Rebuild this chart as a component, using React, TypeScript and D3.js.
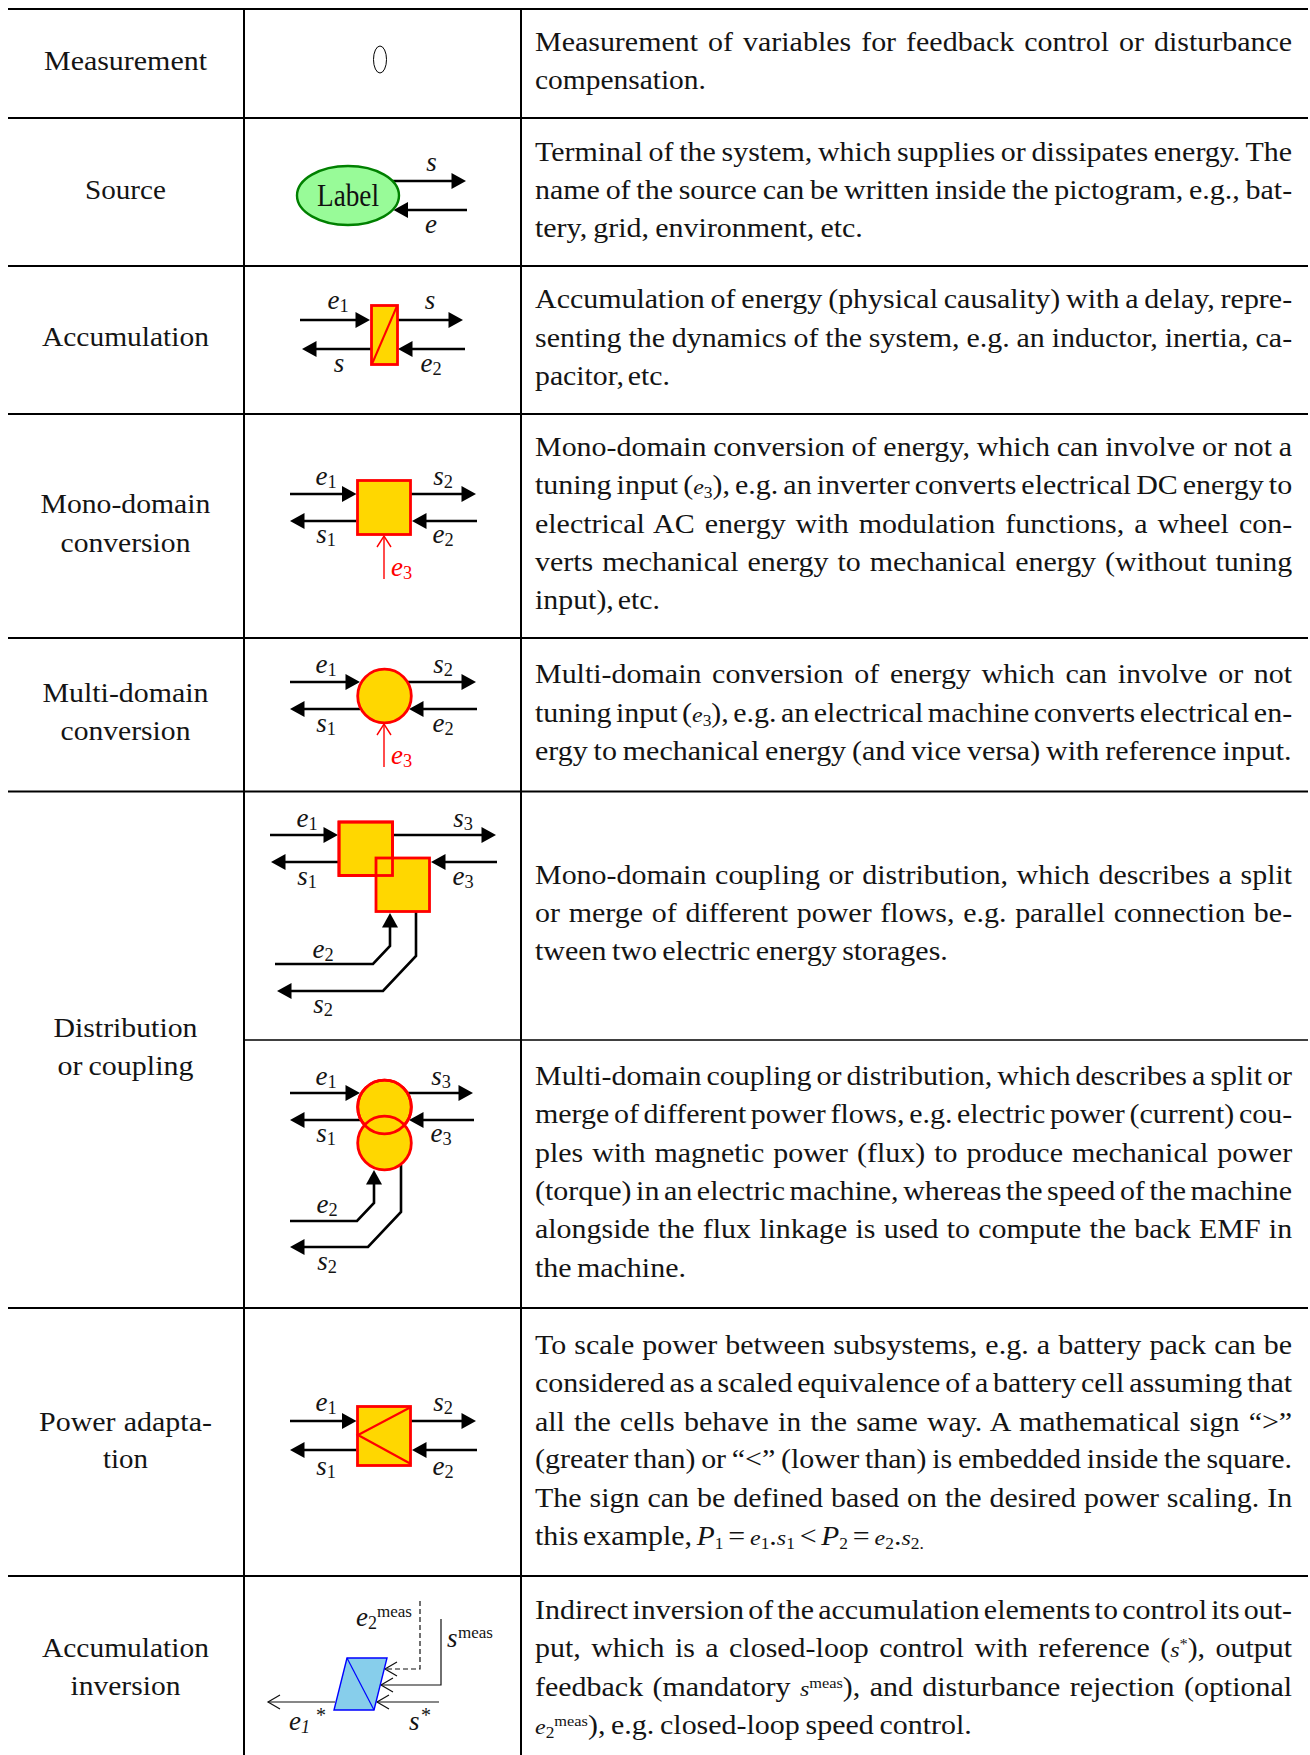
import React, { useLayoutEffect, useRef } from "react";
import * as d3 from "d3";

// ---------- content ----------
const rowLabels: string[][] = [
  ["Measurement"],
  ["Source"],
  ["Accumulation"],
  ["Mono-domain", "conversion"],
  ["Multi-domain", "conversion"],
  ["Distribution", "or coupling"],
  ["Power adapta-", "tion"],
  ["Accumulation", "inversion"],
];

const descriptions: string[][] = [
  ["Measurement of variables for feedback control or disturbance", "compensation."],
  [
    "Terminal of the system, which supplies or dissipates energy. The",
    "name of the source can be written inside the pictogram, e.g., bat-",
    "tery, grid, environment, etc.",
  ],
  [
    "Accumulation of energy (physical causality) with a delay, repre-",
    "senting the dynamics of the system, e.g. an inductor, inertia, ca-",
    "pacitor, etc.",
  ],
  [
    "Mono-domain conversion of energy, which can involve or not a",
    "tuning input ({i:e}{_:3}), e.g. an inverter converts electrical DC energy to",
    "electrical AC energy with modulation functions, a wheel con-",
    "verts mechanical energy to mechanical energy (without tuning",
    "input), etc.",
  ],
  [
    "Multi-domain conversion of energy which can involve or not",
    "tuning input ({i:e}{_:3}), e.g. an electrical machine converts electrical en-",
    "ergy to mechanical energy (and vice versa) with reference input.",
  ],
  [
    "Mono-domain coupling or distribution, which describes a split",
    "or merge of different power flows, e.g. parallel connection be-",
    "tween two electric energy storages.",
  ],
  [
    "Multi-domain coupling or distribution, which describes a split or",
    "merge of different power flows, e.g. electric power (current) cou-",
    "ples with magnetic power (flux) to produce mechanical power",
    "(torque) in an electric machine, whereas the speed of the machine",
    "alongside the flux linkage is used to compute the back EMF in",
    "the machine.",
  ],
  [
    "To scale power between subsystems, e.g. a battery pack can be",
    "considered as a scaled equivalence of a battery cell assuming that",
    "all the cells behave in the same way. A mathematical sign “>”",
    "(greater than) or “<” (lower than) is embedded inside the square.",
    "The sign can be defined based on the desired power scaling. In",
    "this example, {P:P}{_:1} = {i:e}{_:1}.{i:s}{_:1} < {P:P}{_:2} = {i:e}{_:2}.{i:s}{_:2.}",
  ],
  [
    "Indirect inversion of the accumulation elements to control its out-",
    "put, which is a closed-loop control with reference ({i:s}{^:*}), output",
    "feedback (mandatory {i:s}{^:meas}), and disturbance rejection (optional",
    "{i:e}{_:2}{^:meas}), e.g. closed-loop speed control.",
  ],
];

// ---------- layout ----------
const W = 1310, H = 1755;
const FONT = "'Liberation Serif', serif";
const TXT = "#141414";
const rowLines = [9, 118, 266, 414, 638, 791.5, 1308, 1576];
const col1 = 244, col2 = 521, left = 8, right = 1308, split = 1040;

const labelLayout: { y: number; w: number }[][] = [
  [{ y: 70, w: 163 }],
  [{ y: 199, w: 81 }],
  [{ y: 346, w: 167 }],
  [{ y: 513, w: 170 }, { y: 552, w: 130 }],
  [{ y: 702, w: 166 }, { y: 740, w: 130 }],
  [{ y: 1037, w: 144 }, { y: 1075, w: 136 }],
  [{ y: 1431, w: 173 }, { y: 1468, w: 45 }],
  [{ y: 1657, w: 167 }, { y: 1695, w: 110 }],
];
const bodyBaselines = [
  [51, 89],
  [161, 199, 237],
  [308, 347, 385],
  [456, 494, 533, 571, 609],
  [683, 722, 760],
  [884, 922, 960],
  [1085, 1123, 1162, 1200, 1238, 1277],
  [1354, 1392, 1431, 1468, 1507, 1545],
  [1619, 1657, 1696, 1734],
];
const bodyLast = [171, 328, 135, 125, 757, 413, 151, 389, 437];
const bodyX = 535, bodyW = 757.5;

const lineGen = d3.line<[number, number]>();
type P = [number, number];

function parse(s: string) {
  const out: { k: string; t: string }[] = [];
  const re = /\{([iP_^]):([^}]*)\}/g;
  let last = 0, m: RegExpExecArray | null;
  while ((m = re.exec(s))) {
    if (m.index > last) out.push({ k: "", t: s.slice(last, m.index) });
    out.push({ k: m[1], t: m[2] });
    last = m.index + m[0].length;
  }
  if (last < s.length) out.push({ k: "", t: s.slice(last) });
  return out;
}

const segStyle: Record<string, any> = {
  "": { shift: 0 },
  i: { shift: 0, size: 22, italic: true },
  P: { shift: 0, size: 27, italic: true },
  _: { shift: 4, size: 16 },
  "^": { shift: -8, size: 15 },
};

function RichText({ s }: { s: string }) {
  let cur = 0;
  return (
    <>
      {parse(s).map((seg, i) => {
        const st = segStyle[seg.k];
        const dy = st.shift - cur;
        cur = st.shift;
        return (
          <tspan key={i} dy={dy || undefined} fontSize={st.size} fontStyle={st.italic ? "italic" : undefined}>
            {seg.t}
          </tspan>
        );
      })}
    </>
  );
}

function Arrow({ pts, color = "#000", w = 2.6, len = 14.5, hw = 8, open = false, dash }: {
  pts: P[]; color?: string; w?: number; len?: number; hw?: number; open?: boolean; dash?: string;
}) {
  const n = pts.length;
  const [tx, ty] = pts[n - 1];
  const [px, py] = pts[n - 2];
  const d = Math.hypot(tx - px, ty - py);
  const ux = (tx - px) / d, uy = (ty - py) / d;
  const bx = tx - ux * len, by = ty - uy * len;
  const a: P = [bx - uy * hw, by + ux * hw];
  const b: P = [bx + uy * hw, by - ux * hw];
  const body: P[] = open ? pts : [...pts.slice(0, n - 1), [bx + ux, by + uy]];
  return (
    <g>
      <path d={lineGen(body)!} fill="none" stroke={color} strokeWidth={w} strokeDasharray={dash} />
      {open ? (
        <path d={lineGen([a, [tx, ty], b])!} fill="none" stroke={color} strokeWidth={w} />
      ) : (
        <path d={lineGen([a, [tx, ty], b])! + "Z"} fill={color} />
      )}
    </g>
  );
}

function Sym({ x, y, t, sub, color = TXT, anchor = "middle", italicSub = false, fs = 27 }: {
  x: number; y: number; t: string; sub?: string; color?: string; anchor?: string; italicSub?: boolean; fs?: number;
}) {
  return (
    <text x={x} y={y} textAnchor={anchor as any} fontFamily={FONT} fill={color} fontSize={fs}>
      <tspan fontStyle="italic">{t}</tspan>
      {sub && (
        <tspan fontSize={fs * 0.68} dy={3} fontStyle={italicSub ? "italic" : undefined}>
          {sub}
        </tspan>
      )}
    </text>
  );
}

const GOLD = "#ffd700", RED = "#ff0000";
const SW = 2.8;
const CX = 384.5;
const Box = ({ x, y, w, h }: { x: number; y: number; w: number; h: number }) => (
  <rect x={x} y={y} width={w} height={h} fill={GOLD} stroke={RED} strokeWidth={SW} />
);
const Disc = ({ cy, stroke = true, fill = GOLD }: { cy: number; stroke?: boolean; fill?: string }) => (
  <circle cx={CX} cy={cy} r={26.8} fill={fill} stroke={stroke ? RED : "none"} strokeWidth={SW} />
);

// Standard four-arrow pair around a block
function Quad({ topY, botY, lx, rx, lEnd = 290, rEnd = 476 }: {
  topY: number; botY: number; lx: number; rx: number; lEnd?: number; rEnd?: number;
}) {
  return (
    <>
      <Arrow pts={[[lEnd, topY], [lx, topY]]} />
      <Arrow pts={[[rx - 2, topY], [rEnd, topY]]} />
      <Arrow pts={[[lx, botY], [lEnd, botY]]} />
      <Arrow pts={[[rEnd + 1, botY], [rx - 1, botY]]} />
    </>
  );
}

function Pictograms() {
  const redOpen = { color: RED, w: 1.4, len: 11, hw: 7, open: true };
  const thin = { color: "#111", w: 1.2, len: 12, hw: 7, open: true };
  return (
    <g>
      {/* Measurement */}
      <ellipse cx={380} cy={59.5} rx={6.5} ry={13.5} fill="#fff" stroke="#000" strokeWidth={1} />

      {/* Source */}
      <Arrow pts={[[390, 181], [466, 181]]} />
      <Arrow pts={[[467, 210], [393.5, 210]]} />
      <ellipse cx={348} cy={195.5} rx={51} ry={29.5} fill="#98fb98" stroke="#008000" strokeWidth={2.4} />
      <text x={317} y={206} fontFamily={FONT} fontSize={31} fill="#111" textLength={62} lengthAdjust="spacingAndGlyphs">Label</text>
      <Sym x={431.5} y={171} t="s" />
      <Sym x={431} y={233} t="e" />

      {/* Accumulation */}
      <Arrow pts={[[300, 320], [370, 320]]} />
      <Arrow pts={[[397, 320], [463, 320]]} />
      <Arrow pts={[[372, 349], [302, 349]]} />
      <Arrow pts={[[465, 349], [398, 349]]} />
      <rect x={371.5} y={305.5} width={26} height={59} fill={GOLD} stroke={RED} strokeWidth={SW} />
      <path d={lineGen([[372, 364], [397, 306]])!} stroke={RED} strokeWidth={2} fill="none" />
      <Sym x={338} y={309} t="e" sub="1" />
      <Sym x={430} y={309} t="s" />
      <Sym x={339} y={372} t="s" />
      <Sym x={431} y={372} t="e" sub="2" />

      {/* Mono-domain */}
      <Quad topY={494} botY={521} lx={356.5} rx={413} />
      <Box x={357.5} y={480.5} w={53} h={54} />
      <Arrow pts={[[384, 579], [384, 536]]} {...redOpen} />
      <Sym x={326} y={485} t="e" sub="1" />
      <Sym x={443} y={485} t="s" sub="2" />
      <Sym x={326} y={543} t="s" sub="1" />
      <Sym x={443} y={543} t="e" sub="2" />
      <Sym x={391} y={576} t="e" sub="3" color={RED} anchor="start" />

      {/* Multi-domain */}
      <Quad topY={682} botY={709} lx={360} rx={410} />
      <Disc cy={696} />
      <Arrow pts={[[384, 767], [384, 724]]} {...redOpen} />
      <Sym x={326} y={673} t="e" sub="1" />
      <Sym x={443} y={673} t="s" sub="2" />
      <Sym x={326} y={732} t="s" sub="1" />
      <Sym x={443} y={732} t="e" sub="2" />
      <Sym x={391} y={764} t="e" sub="3" color={RED} anchor="start" />

      {/* Distribution – mono */}
      <Arrow pts={[[270, 835], [338, 835]]} />
      <Arrow pts={[[392, 835], [496, 835]]} />
      <Arrow pts={[[339, 862], [271, 862]]} />
      <Arrow pts={[[497, 862], [431, 862]]} />
      <Arrow pts={[[275, 964], [373, 964], [390, 946], [390, 913]]} />
      <Arrow pts={[[416, 911], [416, 956], [383, 991], [277, 991]]} />
      <Box x={339} y={822} w={53.5} h={53.5} />
      <Box x={376} y={858} w={53.5} h={53.5} />
      <rect x={339} y={822} width={53.5} height={53.5} fill="none" stroke={RED} strokeWidth={SW} />
      <Sym x={307} y={827} t="e" sub="1" />
      <Sym x={463} y={827} t="s" sub="3" />
      <Sym x={307} y={885} t="s" sub="1" />
      <Sym x={463} y={885} t="e" sub="3" />
      <Sym x={323} y={958} t="e" sub="2" />
      <Sym x={323} y={1013} t="s" sub="2" />

      {/* Distribution – multi */}
      <Quad topY={1093} botY={1120} lx={360} rx={410} rEnd={473} />
      <Arrow pts={[[290, 1221], [357, 1221], [374, 1203], [374, 1170]]} />
      <Arrow pts={[[401, 1165], [401, 1212], [368, 1247], [290, 1247]]} />
      <Disc cy={1107} />
      <Disc cy={1143} />
      <circle cx={CX} cy={1107} r={26.8} fill="none" stroke={RED} strokeWidth={SW} />
      <Sym x={326} y={1085} t="e" sub="1" />
      <Sym x={441} y={1085} t="s" sub="3" />
      <Sym x={326} y={1142} t="s" sub="1" />
      <Sym x={441} y={1142} t="e" sub="3" />
      <Sym x={327} y={1213} t="e" sub="2" />
      <Sym x={327} y={1270} t="s" sub="2" />

      {/* Power adaptation */}
      <Quad topY={1421} botY={1450} lx={356.5} rx={413} />
      <Box x={357.5} y={1406.5} w={53} h={59} />
      <path d={lineGen([[411, 1407], [358, 1435], [411, 1464]])!} fill="none" stroke={RED} strokeWidth={2.2} />
      <Sym x={326} y={1411} t="e" sub="1" />
      <Sym x={443} y={1411} t="s" sub="2" />
      <Sym x={326} y={1475} t="s" sub="1" />
      <Sym x={443} y={1475} t="e" sub="2" />

      {/* Accumulation inversion */}
      <Arrow pts={[[420, 1601], [420, 1669], [385, 1669]]} {...thin} dash="5 3" />
      <Arrow pts={[[441, 1619], [441, 1685], [381, 1685]]} {...thin} />
      <Arrow pts={[[439, 1702], [377, 1702]]} {...thin} />
      <Arrow pts={[[335, 1702], [268, 1702]]} {...thin} />
      <path d={lineGen([[347, 1658], [387, 1658], [374, 1710], [334, 1710]])! + "Z"} fill="#87ceeb" stroke="#0000ff" strokeWidth={1.4} />
      <path d={lineGen([[347, 1658], [374, 1710]])!} fill="none" stroke="#0000ff" strokeWidth={1.2} />
      <text x={356} y={1626} fontFamily={FONT} fontSize={27} fill={TXT}>
        <tspan fontStyle="italic">e</tspan><tspan fontSize={18} dy={3}>2</tspan>
      </text>
      <text x={377} y={1617} fontFamily={FONT} fontSize={17} fill={TXT} textLength={35} lengthAdjust="spacingAndGlyphs">meas</text>
      <text x={447} y={1647} fontFamily={FONT} fontSize={27} fill={TXT} fontStyle="italic">s</text>
      <text x={458} y={1638} fontFamily={FONT} fontSize={17} fill={TXT} textLength={35} lengthAdjust="spacingAndGlyphs">meas</text>
      <text x={289} y={1730} fontFamily={FONT} fontSize={27} fill={TXT} fontStyle="italic">
        e<tspan fontSize={18} dy={3}>1</tspan>
      </text>
      <text x={316} y={1722} fontFamily={FONT} fontSize={20} fill={TXT}>*</text>
      <text x={409} y={1730} fontFamily={FONT} fontSize={27} fill={TXT} fontStyle="italic">s</text>
      <text x={421} y={1722} fontFamily={FONT} fontSize={20} fill={TXT}>*</text>
    </g>
  );
}

const FS = 27.5;
const GLYPH = 1.09;

export default function App() {
  const ref = useRef<SVGSVGElement>(null);
  useLayoutEffect(() => {
    d3.select(ref.current).selectAll<SVGTextElement, unknown>("text.fit").each(function () {
      const el = this;
      const T = +el.dataset.w!;
      const n = (el.textContent!.match(/ /g) || []).length;
      const w0 = el.getComputedTextLength();
      let s = GLYPH, ws = 0;
      if (n === 0) s = T / w0;
      else {
        ws = (T / s - w0) / n;
        const min = -0.12 * FS;
        if (ws < min) { ws = min; s = T / (w0 + n * ws); }
      }
      el.style.wordSpacing = ws + "px";
      const x = el.dataset.c ? +el.dataset.c! - T / 2 : +el.dataset.x!;
      el.setAttribute("transform", `translate(${x},${el.dataset.y}) scale(${s},1)`);
    });
  }, []);

  return (
    <svg ref={ref} width={W} height={H} style={{ position: "absolute", left: 0, top: 0, display: "block", background: "#fff" }}>
      {rowLines.map((y, i) => (
        <line key={i} x1={left} x2={right} y1={y} y2={y} stroke="#000" strokeWidth={2} />
      ))}
      <line x1={col1} x2={right} y1={split} y2={split} stroke="#000" strokeWidth={1.6} />
      {[col1, col2].map((x) => (
        <line key={x} x1={x} x2={x} y1={rowLines[0]} y2={H} stroke="#000" strokeWidth={2} />
      ))}

      {rowLabels.map((lines, r) =>
        lines.map((t, i) => (
          <text key={`${r}-${i}`} className="fit" data-c={125.5} data-y={labelLayout[r][i].y} data-w={labelLayout[r][i].w}
            fontFamily={FONT} fontSize={FS} fill={TXT}>{t}</text>
        ))
      )}

      {descriptions.map((lines, r) =>
        lines.map((t, i) => (
          <text key={`d${r}-${i}`} className="fit" data-x={bodyX} data-y={bodyBaselines[r][i]}
            data-w={i === lines.length - 1 ? bodyLast[r] : bodyW}
            fontFamily={FONT} fontSize={FS} fill={TXT} style={{ whiteSpace: "pre" }}>
            <RichText s={t} />
          </text>
        ))
      )}

      <Pictograms />
    </svg>
  );
}
